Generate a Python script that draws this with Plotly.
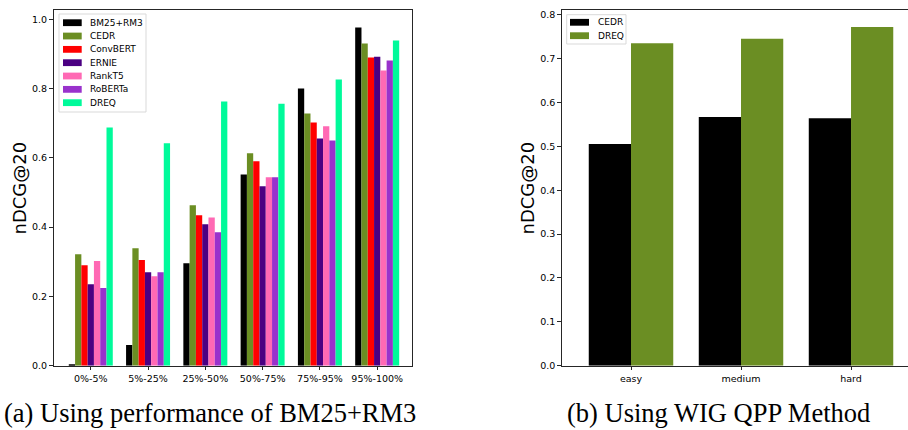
import plotly.graph_objects as go

# ---------------- data ----------------
groups_a = ["0%-5%", "5%-25%", "25%-50%", "50%-75%", "75%-95%", "95%-100%"]
methods_a = ["BM25+RM3", "CEDR", "ConvBERT", "ERNIE", "RankT5", "RoBERTa", "DREQ"]
colors_a = ["#000000", "#6B8E23", "#FF0000", "#4B0082", "#FF69B4", "#9932CC", "#00FA9A"]
bm25 = [0.003, 0.060, 0.296, 0.552, 0.800, 0.976]
cedr = [0.322, 0.339, 0.463, 0.613, 0.728, 0.930]
convbert = [0.290, 0.305, 0.434, 0.590, 0.702, 0.890]
ernie = [0.235, 0.270, 0.408, 0.518, 0.656, 0.892]
rankt5 = [0.302, 0.258, 0.428, 0.544, 0.691, 0.852]
roberta = [0.224, 0.270, 0.385, 0.544, 0.650, 0.881]
dreq = [0.688, 0.642, 0.763, 0.756, 0.826, 0.939]
values_a = [bm25, cedr, convbert, ernie, rankt5, roberta, dreq]

groups_b = ["easy", "medium", "hard"]
methods_b = ["CEDR", "DREQ"]
colors_b = ["#000000", "#6B8E23"]
cedr_b = [0.505, 0.567, 0.564]
dreq_b = [0.735, 0.745, 0.772]
values_b = [cedr_b, dreq_b]

yticks_a = [0.0, 0.2, 0.4, 0.6, 0.8, 1.0]
yticks_b = [0.0, 0.1, 0.2, 0.3, 0.4, 0.5, 0.6, 0.7, 0.8]
ylabel = "nDCG@20"
caption_a = "(a) Using performance of BM25+RM3"
caption_b = "(b) Using WIG QPP Method"

# ---------------- layout helpers ----------------
W, H = 908, 430
def px(x):
    return x / W
def py(y):
    return 1 - y / H

fig = go.Figure()
for name, col, vals in zip(methods_a, colors_a, values_a):
    fig.add_trace(go.Bar(x=list(range(len(groups_a))), y=vals, name=name,
                         marker=dict(color=col, line=dict(width=0)),
                         xaxis="x", yaxis="y", showlegend=False))
for name, col, vals in zip(methods_b, colors_b, values_b):
    fig.add_trace(go.Bar(x=list(range(len(groups_b))), y=vals, name=name,
                         marker=dict(color=col, line=dict(width=0)),
                         xaxis="x2", yaxis="y2", showlegend=False))

axcol = "#262626"
tickfont = dict(family="DejaVu Sans", size=9.5, color="#000000")
common = dict(showgrid=False, zeroline=False, showline=True, linecolor=axcol, linewidth=1,
              ticks="outside", ticklen=3.5, tickcolor=axcol, tickwidth=1, tickfont=tickfont,
              automargin=False)

ydom = [py(365.7), py(10.3)]
fig.update_layout(
    template="none",
    width=W, height=H, margin=dict(l=0, r=0, t=0, b=0, pad=0, autoexpand=False),
    paper_bgcolor="white", plot_bgcolor="white",
    barmode="group", bargap=0.232, bargroupgap=0,
    showlegend=False,
    xaxis=dict(common, domain=[px(53.5), px(412.3)], range=[-0.651, 5.613],
               tickmode="array", tickvals=list(range(len(groups_a))), ticktext=groups_a,
               mirror=True, anchor="y"),
    yaxis=dict(common, domain=ydom, range=[0, 1.026], tickmode="array",
               tickvals=yticks_a, ticktext=[f"{v:.1f}" for v in yticks_a],
               mirror=True, anchor="x"),
    xaxis2=dict(common, domain=[px(561.7), 1.0], range=[-0.63, 2.518],
                tickmode="array", tickvals=list(range(len(groups_b))), ticktext=groups_b,
                mirror=True, anchor="y2"),
    yaxis2=dict(common, domain=ydom, range=[0, 0.81], tickmode="array",
                tickvals=yticks_b, ticktext=[f"{v:.1f}" for v in yticks_b],
                mirror=False, anchor="x2"),
)

shapes = []
annotations = []

# y-axis titles
for xc in (19, 527):
    annotations.append(dict(text=ylabel, x=px(xc), y=py(188.5), xref="paper", yref="paper",
                            showarrow=False, textangle=-90, xanchor="center", yanchor="middle",
                            font=dict(family="DejaVu Sans", size=18, color="#000000")))

# captions
annotations.append(dict(text=caption_a, x=px(210), y=py(412.5), xref="paper", yref="paper",
                        showarrow=False, xanchor="center", yanchor="middle",
                        font=dict(family="Liberation Serif", size=26.5, color="#000000")))
annotations.append(dict(text=caption_b, x=px(718.4), y=py(412.5), xref="paper", yref="paper",
                        showarrow=False, xanchor="center", yanchor="middle",
                        font=dict(family="Liberation Serif", size=26.5, color="#000000")))

# legends (drawn like matplotlib legend boxes)
def add_legend(names, cols, box, sw_x0, sw_x1, txt_x, row0, step):
    x0, y0, x1, y1 = box
    shapes.append(dict(type="rect", xref="paper", yref="paper",
                       x0=px(x0), x1=px(x1), y0=py(y1), y1=py(y0),
                       line=dict(color="#d9d9d9", width=1), fillcolor="rgba(255,255,255,0.8)",
                       layer="above"))
    for i, (n, c) in enumerate(zip(names, cols)):
        yc = row0 + i * step
        shapes.append(dict(type="rect", xref="paper", yref="paper",
                           x0=px(sw_x0), x1=px(sw_x1), y0=py(yc + 3.4), y1=py(yc - 3.4),
                           line=dict(width=0), fillcolor=c, layer="above"))
        annotations.append(dict(text=n, x=px(txt_x), y=py(yc), xref="paper", yref="paper",
                                showarrow=False, xanchor="left", yanchor="middle",
                                font=dict(family="DejaVu Sans", size=9, color="#000000")))

add_legend(methods_a, colors_a, (59, 14, 146, 112), 63, 81.7, 88.2, 22.7, 13.33)
add_legend(methods_b, colors_b, (566.7, 14.7, 626, 44), 570, 589, 595.5, 22.3, 13.4)

fig.update_layout(shapes=shapes, annotations=annotations)
# remove the browser's default 8px body margin so the figure fills the window exactly
fig.write_html("out.html",
               config={"displayModeBar": False},
               post_script="document.body.style.margin='0px';document.body.style.overflow='hidden';")
